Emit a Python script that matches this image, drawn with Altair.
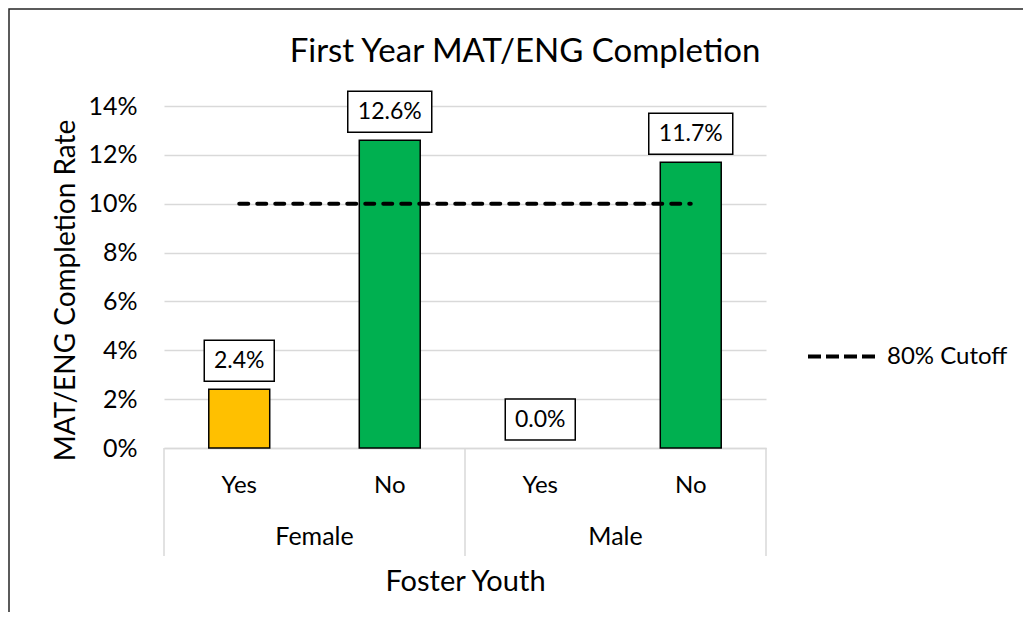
import altair as alt
import pandas as pd

# ---- data ----
genders = ["Female", "Female", "Male", "Male"]
foster = ["Yes", "No", "Yes", "No"]
rates = [0.024, 0.126, 0.0, 0.117]
rate_labels = ["2.4%", "12.6%", "0.0%", "11.7%"]
groups = ["Female", "Male"]
y_ticks = [0.0, 0.02, 0.04, 0.06, 0.08, 0.10, 0.12, 0.14]
cutoff_value = 0.10
cutoff_name = "80% Cutoff"
chart_title = "First Year MAT/ENG Completion"

FONT = "Lato"
W, H = 602, 342
GRID = "#D9D9D9"

cats = [g + "|" + f for g, f in zip(genders, foster)]
df = pd.DataFrame({"cat": cats, "gender": genders, "foster": foster,
                   "rate": rates, "label": rate_labels})
cut_df = pd.DataFrame({"cat": [cats[0], cats[-1]],
                       "value": [cutoff_value, cutoff_value],
                       "series": [cutoff_name, cutoff_name]})
grp_df = pd.DataFrame({"gender": groups})

xscale = alt.Scale(type="band", domain=cats, paddingInner=0.595, paddingOuter=0.2975)
yscale = alt.Scale(domain=[0, 0.14])
gscale = alt.Scale(type="band", domain=groups, paddingInner=0, paddingOuter=0)

one = pd.DataFrame({"t": [chart_title]})

# outer frame of the chart area
frame = alt.Chart(one).mark_rect(
    fill="white", fillOpacity=0, stroke="#262626", strokeWidth=1.5
).encode(x=alt.value(-155), x2=alt.value(W + 400), y=alt.value(-97), y2=alt.value(H + 400))

title = alt.Chart(one).mark_text(
    font=FONT, fontSize=33, color="black", baseline="alphabetic", align="center"
).encode(x=alt.value(W / 2 + 60), y=alt.value(-44), text="t:N")

bars = alt.Chart(df).transform_filter("datum.rate > 0").mark_bar(
    stroke="black", strokeWidth=1.5
).encode(
    x=alt.X("cat:N", scale=xscale, sort=cats, title="Foster Youth",
            axis=alt.Axis(labelExpr="split(datum.label, '|')[1]", labelAngle=0,
                          ticks=False, tickSize=0, labelPadding=44,
                          labelBaseline="alphabetic", labelFont=FONT, labelFontSize=24,
                          labelColor="black", domainColor=GRID, domainWidth=1.5,
                          titleFont=FONT, titleFontSize=29, titleFontWeight="normal",
                          titleColor="black", titleY=142, titleBaseline="alphabetic")),
    y=alt.Y("rate:Q", scale=yscale, title="MAT/ENG Completion Rate",
            axis=alt.Axis(values=y_ticks, format=".0%", ticks=False, tickSize=0,
                          labelPadding=27, domain=False, gridColor=GRID, gridWidth=1.5,
                          labelFont=FONT, labelFontSize=25, labelColor="black",
                          titleFont=FONT, titleFontSize=28, titleFontWeight="normal",
                          titleColor="black", titleX=-90, titleY=184,
                          titleBaseline="alphabetic")),
    fill=alt.Fill("foster:N", scale=alt.Scale(domain=["Yes", "No"],
                                              range=["#FFC000", "#00B050"]), legend=None),
)

boxes = alt.Chart(df).transform_calculate(
    bw="14 * length(datum.label) + 14"
).mark_bar(fill="white", stroke="black", strokeWidth=1.5, yOffset=-8, y2Offset=-49).encode(
    x=alt.X("cat:N", scale=xscale, sort=cats),
    y=alt.Y("rate:Q", scale=yscale),
    y2=alt.Y2("rate"),
    size=alt.Size("bw:Q", scale=None),
)

texts = alt.Chart(df).mark_text(
    font=FONT, fontSize=23, color="black", baseline="middle", dy=-28.5
).encode(
    x=alt.X("cat:N", scale=xscale, sort=cats),
    y=alt.Y("rate:Q", scale=yscale),
    text="label:N",
)

cutoff = alt.Chart(cut_df).mark_line(
    strokeDash=[9, 9], strokeCap="round", strokeWidth=4
).encode(
    x=alt.X("cat:N", scale=xscale, sort=cats),
    y=alt.Y("value:Q", scale=yscale),
    stroke=alt.Stroke("series:N", scale=alt.Scale(range=["black"]),
                      legend=alt.Legend(title=None, orient="none", legendX=642, legendY=214,
                                        padding=0, symbolType="stroke", symbolSize=4761,
                                        symbolStrokeWidth=4, symbolDash=[13, 5],
                                        symbolStrokeColor="black", labelOffset=8,
                                        labelFont=FONT, labelFontSize=24, labelColor="black")),
)

seps = alt.Chart(grp_df).mark_rule(color=GRID, strokeWidth=1.5).encode(
    x=alt.X("gender:N", scale=gscale, bandPosition=0, axis=None),
    y=alt.value(H), y2=alt.value(H + 108),
)
sep_end = alt.Chart(grp_df).transform_filter(
    alt.datum.gender == groups[-1]
).mark_rule(color=GRID, strokeWidth=1.5).encode(
    x=alt.X("gender:N", scale=gscale, bandPosition=1, axis=None),
    y=alt.value(H), y2=alt.value(H + 108),
)
gtext = alt.Chart(grp_df).mark_text(
    font=FONT, fontSize=25, color="black", baseline="middle"
).encode(
    x=alt.X("gender:N", scale=gscale, axis=None),
    y=alt.value(H + 89),
    text="gender:N",
)

main = alt.layer(bars, boxes, texts, cutoff)
grp = alt.layer(seps, sep_end, gtext)

chart = alt.layer(frame, title, main, grp).resolve_scale(x="independent").properties(
    width=W, height=H,
    autosize=alt.AutoSizeParams(type="none"),
    padding={"left": 156, "top": 98, "right": 257, "bottom": 164},
    background="white",
).configure_view(stroke=None)

chart.save("out.html", embed_options={"renderer": "svg", "actions": False})
